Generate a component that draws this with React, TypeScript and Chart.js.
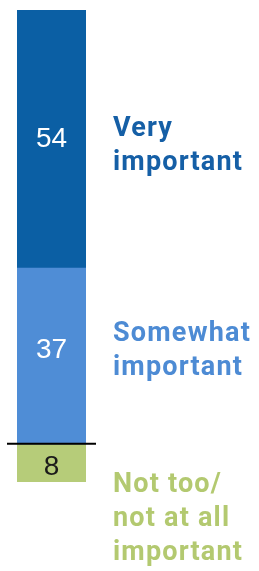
import React, { useEffect, useRef } from "react";
import { Chart, registerables } from "chart.js";

Chart.register(...registerables);

const categories = ["Total"];
const seriesNames = ["Very important", "Somewhat important", "Not too/not at all important"];
const seriesLabelLines = [["Very", "important"], ["Somewhat", "important"], ["Not too/", "not at all", "important"]];
const veryImportant = [54];
const somewhatImportant = [37];
const notImportant = [8];
const barColors = ["#0b5fa4", "#4f8dd6", "#b6cc79"];
const textColors = ["#155fa6", "#4d8bd4", "#b3c970"];
const valueTextColors = ["#ffffff", "#ffffff", "#1a1a1a"];

const labelsPlugin = {
  id: "segmentLabels",
  afterDatasetsDraw(chart: any) {
    const ctx = chart.ctx;
    const yScale = chart.scales.y;
    const numDy = [8.5, 2, 12.5];
    const lblDy = [-2.5, -15, 29.5];
    ctx.save();
    let cum = 0;
    chart.data.datasets.forEach((ds: any, i: number) => {
      const meta = chart.getDatasetMeta(i);
      const bar = meta.data[0];
      const v = ds.data[0];
      const yTop = yScale.getPixelForValue(cum);
      const yBot = yScale.getPixelForValue(cum + v);
      const cy = (yTop + yBot) / 2;
      (ctx as any).letterSpacing = "0px";
      ctx.font = "28px 'Liberation Sans', Arial, sans-serif";
      ctx.fillStyle = valueTextColors[i];
      ctx.textAlign = "center";
      ctx.textBaseline = "alphabetic";
      ctx.fillText(String(v), bar.x, cy + numDy[i]);
      ctx.font = "bold 27px Roboto, 'DejaVu Sans', sans-serif";
      (ctx as any).letterSpacing = "1.2px";
      ctx.fillStyle = textColors[i];
      ctx.textAlign = "left";
      const lines = seriesLabelLines[i];
      lines.forEach((ln, k) => {
        ctx.fillText(ln, 113, cy + lblDy[i] + k * 34);
      });
      cum += v;
    });
    (ctx as any).letterSpacing = "0px";
    const yLine = yScale.getPixelForValue(veryImportant[0] + somewhatImportant[0]);
    ctx.strokeStyle = "#000";
    ctx.lineWidth = 2;
    ctx.beginPath();
    ctx.moveTo(7, yLine);
    ctx.lineTo(96, yLine);
    ctx.stroke();
    ctx.restore();
  },
};

export default function App() {
  const ref = useRef<HTMLCanvasElement | null>(null);
  useEffect(() => {
    document.body.style.margin = "0";
    let chart: Chart | null = null;
    chart = new Chart(ref.current!, {
      type: "bar",
      data: {
        labels: categories,
        datasets: [
          { label: seriesNames[0], data: veryImportant, backgroundColor: barColors[0] },
          { label: seriesNames[1], data: somewhatImportant, backgroundColor: barColors[1] },
          { label: seriesNames[2], data: notImportant, backgroundColor: barColors[2] },
        ],
      },
      options: {
        animation: false,
        responsive: false,
        maintainAspectRatio: false,
        datasets: { bar: { barPercentage: 1, categoryPercentage: 1 } },
        layout: { padding: { left: 17, right: 173, top: 10, bottom: 89 } },
        plugins: { legend: { display: false }, tooltip: { enabled: false } },
        scales: {
          x: { stacked: true, display: false },
          y: { stacked: true, display: false, reverse: true, min: 0, max: 99 },
        },
      },
      plugins: [labelsPlugin],
    });
    const fonts: any = (document as any).fonts;
    if (fonts && fonts.load) {
      fonts.load("bold 27px Roboto").then(() => chart && chart.draw()).catch(() => {});
    }
    return () => { if (chart) chart.destroy(); };
  }, []);
  return (
    <div style={{ width: 259, height: 571, background: "#fff" }}>
      <canvas ref={ref} width={259} height={571} style={{ display: "block" }} />
    </div>
  );
}
